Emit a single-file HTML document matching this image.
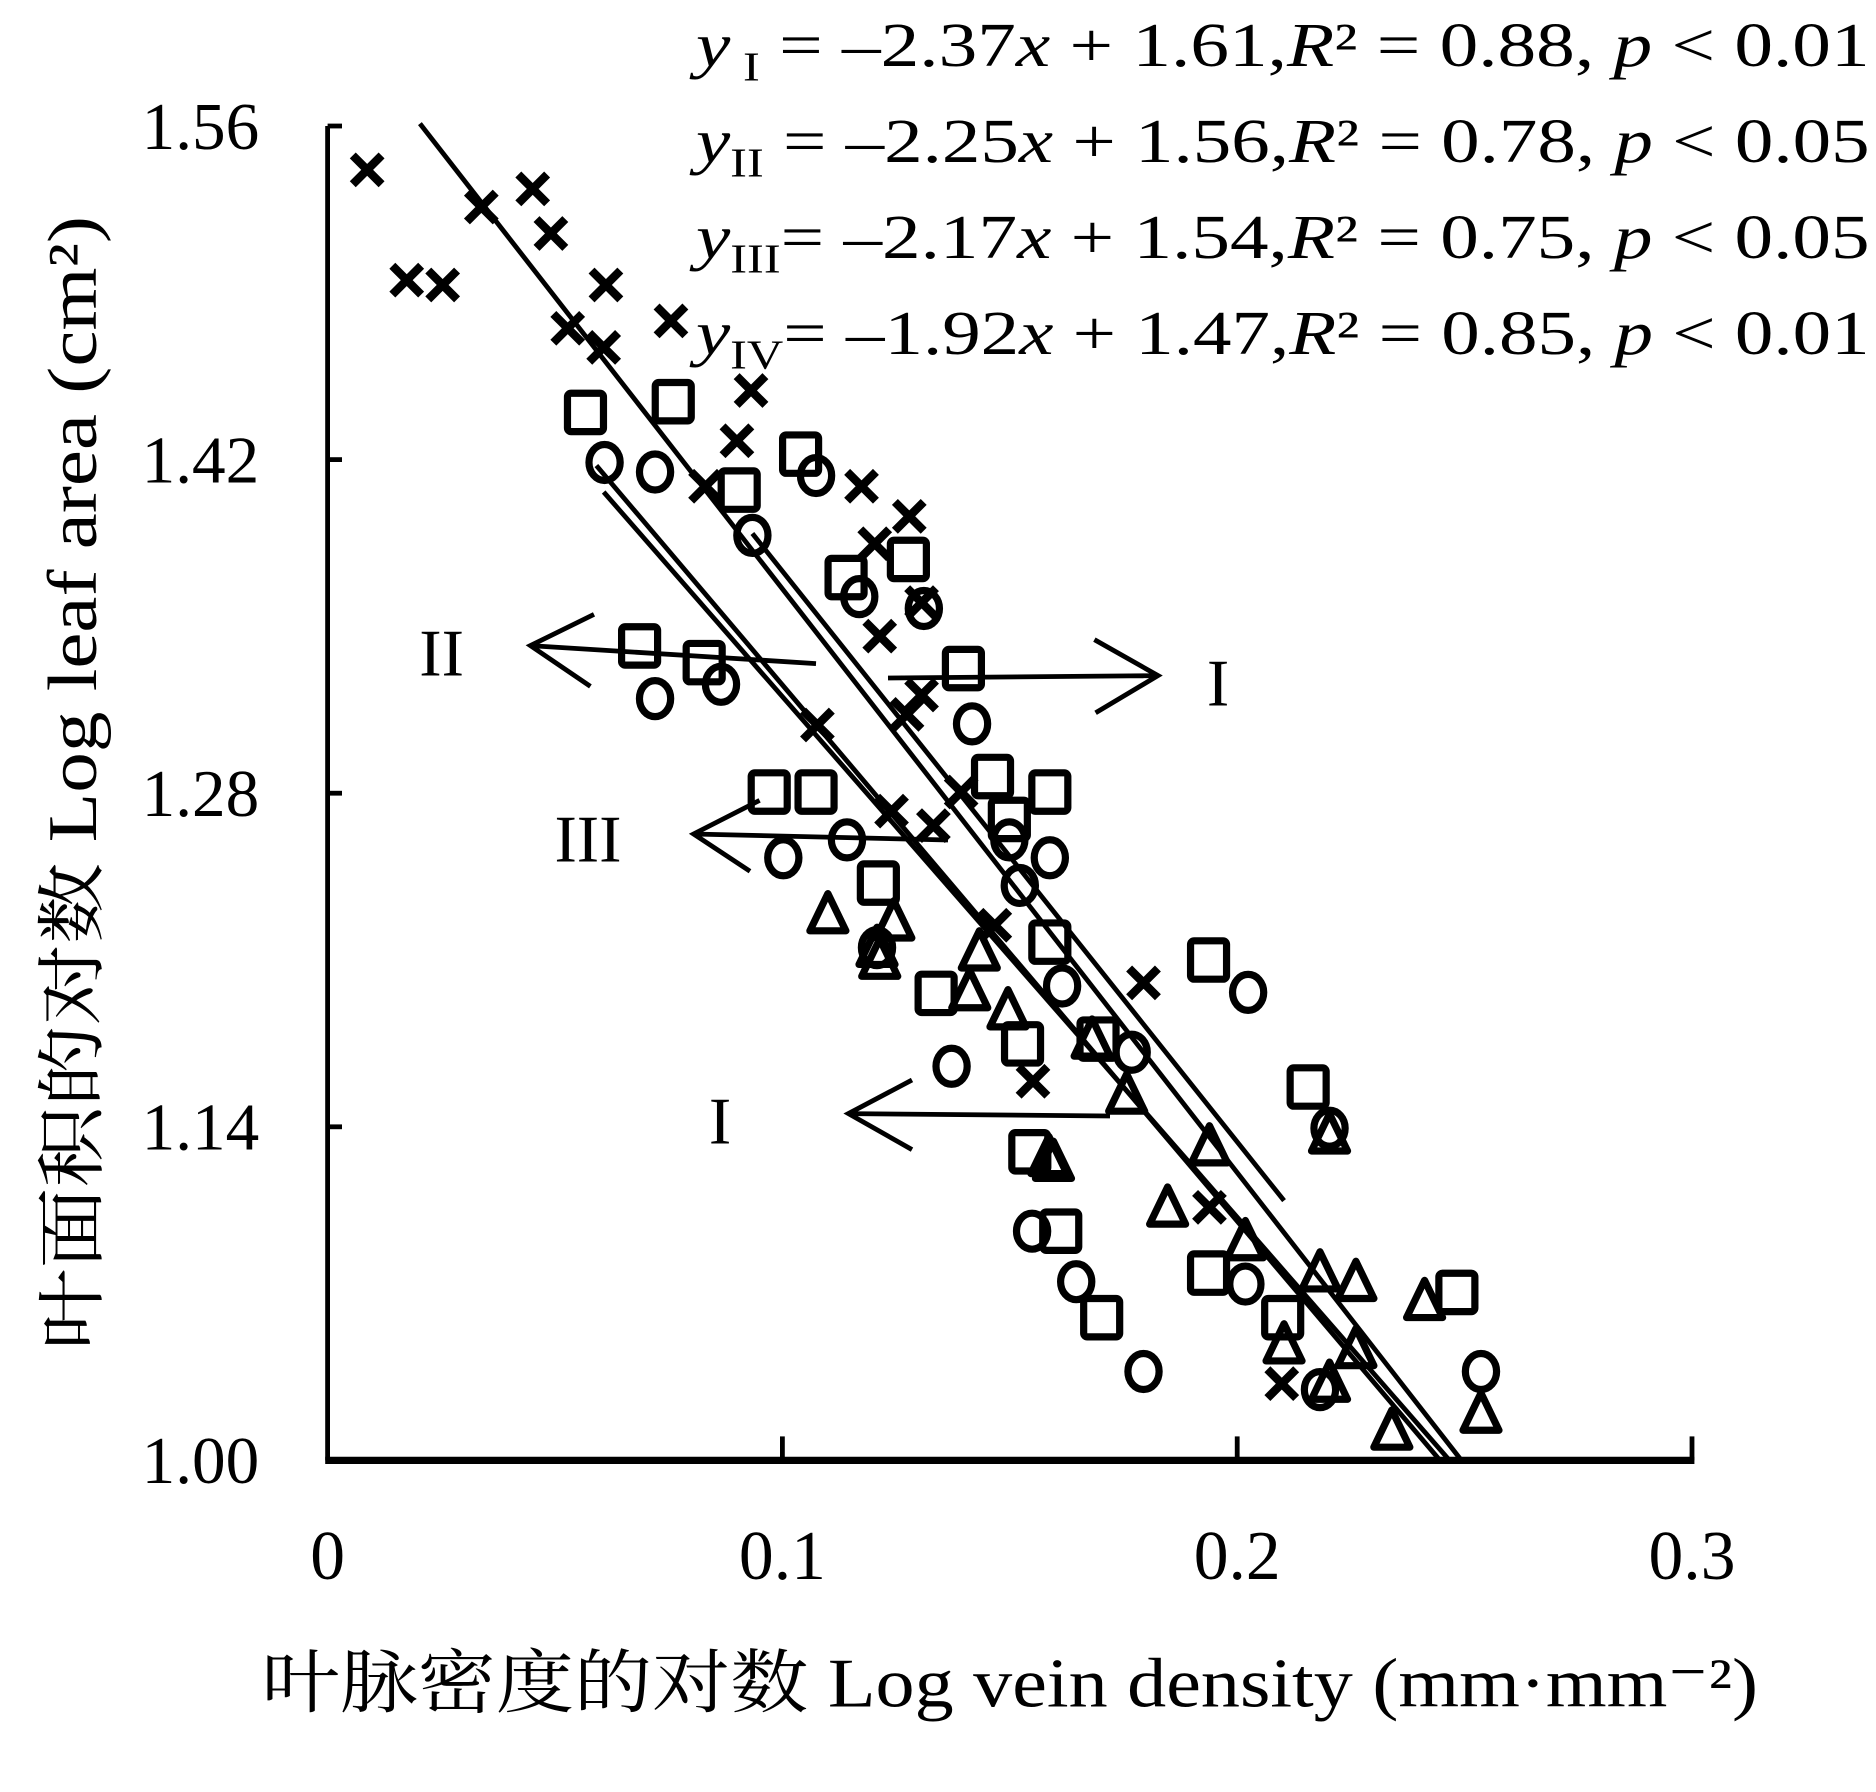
<!DOCTYPE html>
<html><head><meta charset="utf-8"><style>
html,body{margin:0;padding:0;background:#fff;}
svg{display:block;}
text{font-family:"Liberation Serif","Noto Serif CJK SC",serif;fill:#000;}
</style></head><body>
<svg id="chart" xmlns="http://www.w3.org/2000/svg" width="1876" height="1792" viewBox="0 0 1563.33 1493.33">
<g id="marks"></g>
<g id="axes"></g>
<g font-size="52" font-style="normal">
 <text x="580" y="55" textLength="978" lengthAdjust="spacingAndGlyphs"><tspan font-style="italic">y</tspan><tspan font-size="34" dy="12"> I</tspan><tspan dy="-12"> = –2.37</tspan><tspan font-style="italic">x</tspan> + 1.61,<tspan font-style="italic">R</tspan>² = 0.88, <tspan font-style="italic">p</tspan> &lt; 0.01</text>
 <text x="580" y="135" textLength="978" lengthAdjust="spacingAndGlyphs"><tspan font-style="italic">y</tspan><tspan font-size="34" dy="12">II</tspan><tspan dy="-12"> = –2.25</tspan><tspan font-style="italic">x</tspan> + 1.56,<tspan font-style="italic">R</tspan>² = 0.78, <tspan font-style="italic">p</tspan> &lt; 0.05</text>
 <text x="580" y="215" textLength="978" lengthAdjust="spacingAndGlyphs"><tspan font-style="italic">y</tspan><tspan font-size="34" dy="12">III</tspan><tspan dy="-12">= –2.17</tspan><tspan font-style="italic">x</tspan> + 1.54,<tspan font-style="italic">R</tspan>² = 0.75, <tspan font-style="italic">p</tspan> &lt; 0.05</text>
 <text x="580" y="295" textLength="978" lengthAdjust="spacingAndGlyphs"><tspan font-style="italic">y</tspan><tspan font-size="34" dy="12">IV</tspan><tspan dy="-12">= –1.92</tspan><tspan font-style="italic">x</tspan> + 1.47,<tspan font-style="italic">R</tspan>² = 0.85, <tspan font-style="italic">p</tspan> &lt; 0.01</text>
</g>
<g stroke="#000" stroke-width="4" fill="none">
 <path d="M680 553 L442 538 M495 512 L442 538 L492 572"/>
 <path d="M740 565 L965 563 M912 533 L965 563 L913 594"/>
 <path d="M790 700 L578 695 M633 667 L578 695 L625 726"/>
 <path d="M925 930 L707 928 M760 900 L707 928 L760 958"/>
</g>
<g font-size="56">
 <text x="368" y="563" text-anchor="middle">II</text>
 <text x="1015" y="588" text-anchor="middle">I</text>
 <text x="490" y="718" text-anchor="middle">III</text>
 <text x="600" y="953" text-anchor="middle">I</text>
</g>
<text x="218" y="1422" font-size="58" textLength="1247" lengthAdjust="spacingAndGlyphs">叶脉密度的对数 Log vein density (mm·mm⁻²)</text>
<text transform="translate(80,1125) rotate(-90)" font-size="58" textLength="945" lengthAdjust="spacingAndGlyphs">叶面积的对数 Log leaf area (cm²)</text>
</svg>
<script>
const xTicks=[0,0.1,0.2,0.3];
const xTickLabels=["0","0.1","0.2","0.3"];
const yTicks=[1.00,1.14,1.28,1.42,1.56];
const yTickLabels=["1.00","1.14","1.28","1.42","1.56"];
// regression lines: [x1,y1,x2,y2] in data units
const lineI=[0.0203,1.561,0.2493,1.0];
const lineII=[0.0591,1.4175,0.2446,1.0];
const lineIII=[0.0607,1.4064,0.2467,1.0];
const lineIV=[0.0934,1.389,0.2103,1.109];
// scatter data [x,y]
const crossX=[0.0087,0.0174,0.0253,0.0338,0.0451,0.0491,0.0612,0.0528,0.0607,0.0755,0.0931,0.0900,0.0831,0.1174,0.1279,0.1203,0.1214,0.1306,0.1306,0.1274,0.1077,0.1393,0.1332,0.1240,0.1467,0.1551,0.1794,0.1939,0.2098];
const crossY=[1.5416,1.4953,1.4933,1.5260,1.5336,1.5149,1.4933,1.4751,1.4671,1.4782,1.4490,1.4279,1.4088,1.4088,1.3962,1.3847,1.3459,1.3600,1.3212,1.3131,1.3086,1.2805,1.2664,1.2725,1.2246,1.1591,1.2004,1.1062,1.0322];
const squareX=[0.0567,0.0760,0.0905,0.1040,0.1140,0.1277,0.0686,0.0828,0.1398,0.0971,0.1074,0.1462,0.1588,0.1499,0.1211,0.1588,0.1338,0.1528,0.1544,0.1694,0.1612,0.1702,0.1937,0.2156,0.1937,0.2100,0.2483];
const squareY=[1.4398,1.4443,1.4072,1.4223,1.3705,1.3781,1.3418,1.3348,1.3323,1.2805,1.2805,1.2870,1.2805,1.2690,1.2423,1.2175,1.1960,1.1748,1.1295,1.1768,1.0962,1.0599,1.2100,1.1567,1.0786,1.0599,1.0705];
const circleX=[0.0609,0.0720,0.0934,0.1074,0.1169,0.1311,0.0720,0.0865,0.1417,0.1142,0.1002,0.1499,0.1588,0.1522,0.1208,0.1615,0.1372,0.1768,0.2024,0.1549,0.1646,0.1794,0.2018,0.2203,0.2182,0.2536];
const circleY=[1.4188,1.4148,1.3882,1.4133,1.3625,1.3575,1.3197,1.3257,1.3091,1.2604,1.2529,1.2604,1.2529,1.2413,1.2152,1.1991,1.1654,1.1713,1.1964,1.0962,1.0750,1.0373,1.0740,1.1394,1.0297,1.0373];
const triX=[0.1100,0.1214,0.1245,0.1208,0.1412,0.1433,0.1496,0.1596,0.1586,0.1681,0.1757,0.1847,0.1939,0.2018,0.2103,0.2182,0.2261,0.2203,0.2261,0.2412,0.2340,0.2536,0.2203];
const triY=[1.2293,1.2102,1.2263,1.2152,1.1970,1.2137,1.1890,1.1254,1.1274,1.1767,1.1536,1.1062,1.1319,1.0921,1.0488,1.0790,1.0750,1.0327,1.0468,1.0670,1.0126,1.0197,1.1369];

const X0=273,XS=3790,Y0=1217,YS=1985.7;
const sx=v=>X0+v*XS;
const sy=v=>Y0-(v-1)*YS;
const NS="http://www.w3.org/2000/svg";
const marks=document.getElementById('marks');
const axes=document.getElementById('axes');
function mk(tag,attrs,parent){const e=document.createElementNS(NS,tag);for(const k in attrs)e.setAttribute(k,attrs[k]);parent.appendChild(e);return e;}

let ya=mk('line',{x1:X0,y1:105,x2:X0,y2:Y0,stroke:'#000','stroke-width':4},axes);


let xa=mk('line',{x1:X0-2,y1:Y0,x2:1412,y2:Y0,stroke:'#000','stroke-width':6},axes);


xTicks.forEach((t,i)=>{
  if(i>0){const tk=mk('line',{x1:sx(t),y1:Y0,x2:sx(t),y2:Y0-20,stroke:'#000','stroke-width':4},axes);
  
  }
  const lb=mk('text',{x:sx(t),y:1316,'text-anchor':'middle','font-size':58},axes);
  lb.textContent=xTickLabels[i];
  
  
});
yTicks.forEach((t,i)=>{
  const tk=mk('line',{x1:X0,y1:sy(t),x2:X0+12,y2:sy(t),stroke:'#000','stroke-width':4},axes);
  
  
  const lb=mk('text',{x:216,y:sy(t)+19,'text-anchor':'end','font-size':56},axes);
  lb.textContent=yTickLabels[i];
  
  
});

[[lineI,'regression-line-I'],[lineII,'regression-line-II'],[lineIII,'regression-line-III'],[lineIV,'regression-line-IV']].forEach(([L,n])=>{
  const l=mk('line',{x1:sx(L[0]),y1:sy(L[1]),x2:sx(L[2]),y2:sy(L[3]),stroke:'#000','stroke-width':4},marks);
  
  
});

const st={stroke:'#000','stroke-width':6,fill:'none'};
crossX.forEach((x,i)=>{
  const cx=sx(x),cy=sy(crossY[i]),r=12;
  const p=mk('path',Object.assign({d:`M${cx-r} ${cy-r}L${cx+r} ${cy+r}M${cx-r} ${cy+r}L${cx+r} ${cy-r}`},st,{'stroke-width':7}),marks);
  
  
});
squareX.forEach((x,i)=>{
  const cx=sx(x),cy=sy(squareY[i]);
  const p=mk('rect',Object.assign({x:cx-15,y:cy-16,width:30,height:32,rx:3},st),marks);
  
  
});
circleX.forEach((x,i)=>{
  const cx=sx(x),cy=sy(circleY[i]);
  const p=mk('ellipse',Object.assign({cx:cx,cy:cy,rx:13,ry:15},st),marks);
  
  
});
triX.forEach((x,i)=>{
  const cx=sx(x),cy=sy(triY[i]);
  const p=mk('path',Object.assign({d:`M${cx} ${cy-17}L${cx+15} ${cy+14}L${cx-15} ${cy+14}Z`,'stroke-linejoin':'round'},st),marks);
  
  
});
</script>
</body></html>
